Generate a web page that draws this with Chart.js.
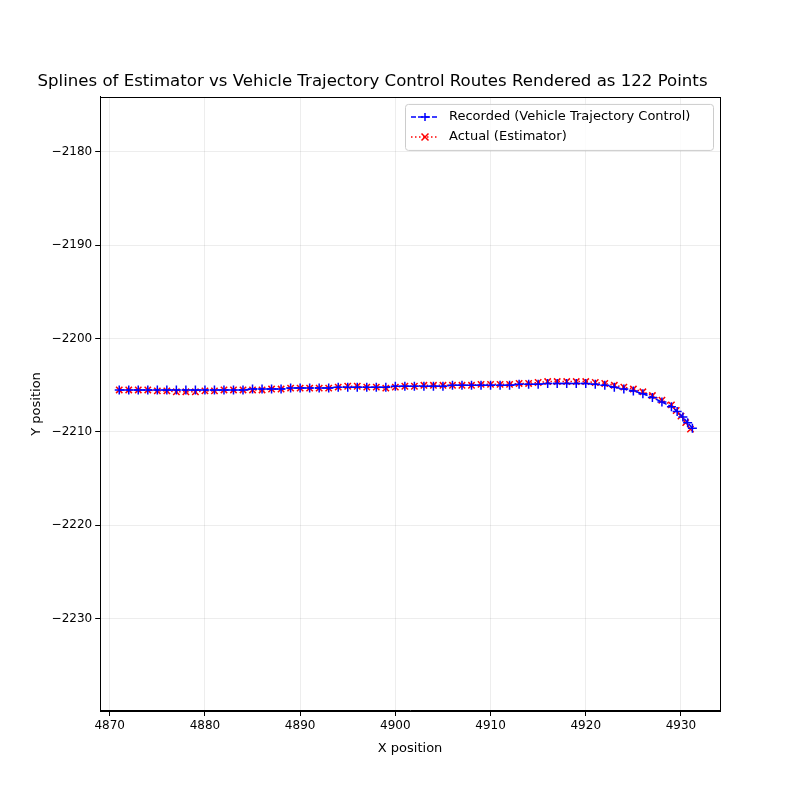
<!DOCTYPE html>
<html>
<head>
<script src="https://cdn.jsdelivr.net/npm/chart.js@4"></script>
<style>body{margin:0;background:#fff}#wrap{width:800px;height:800px}</style>
</head>
<body>
<div id="wrap"><canvas id="c"></canvas></div>
<script>
const recX = [4871,4872,4873,4874,4875,4876,4877,4878,4879,4880,4881,4882,4883,4884,4885,4886,4887,4888,4889,4890,
  4891,4892,4893,4894,4895,4896,4897,4898,4899,4900,4901,4902,4903,4904,4905,4906,4907,4908,4909,4910,
  4911,4912,4913,4914,4915,4916,4917,4918,4919,4920,4921,4922,4923,4924,4925,4926,4927,4928,4929,4929.6,4930.2,4930.7,4931.2];
const recY = [-2205.5,-2205.5,-2205.5,-2205.5,-2205.5,-2205.5,-2205.5,-2205.5,-2205.5,-2205.5,
  -2205.5,-2205.5,-2205.5,-2205.5,-2205.4,-2205.4,-2205.4,-2205.4,-2205.3,-2205.3,
  -2205.3,-2205.3,-2205.3,-2205.2,-2205.2,-2205.2,-2205.2,-2205.2,-2205.2,-2205.1,
  -2205.1,-2205.1,-2205.1,-2205.1,-2205.1,-2205.0,-2205.0,-2205.0,-2205.0,-2205.0,
  -2205.0,-2205.0,-2204.9,-2204.9,-2204.9,-2204.8,-2204.8,-2204.8,-2204.8,-2204.8,
  -2204.9,-2205.0,-2205.2,-2205.4,-2205.6,-2205.9,-2206.3,-2206.8,-2207.3,-2207.8,-2208.4,-2209.0,-2209.6];
const actX = [4871,4872,4873,4874,4875,4876,4877,4878,4879,4880,4881,4882,4883,4884,4885,4886,4887,4888,4889,4890,
  4891,4892,4893,4894,4895,4896,4897,4898,4899,4900,4901,4902,4903,4904,4905,4906,4907,4908,4909,4910,
  4911,4912,4913,4914,4915,4916,4917,4918,4919,4920,4921,4922,4923,4924,4925,4926,4927,4928,4929,4929.5,4930,4930.5,4931];
const actY = [-2205.5,-2205.5,-2205.5,-2205.5,-2205.6,-2205.6,-2205.7,-2205.7,-2205.7,-2205.6,
  -2205.6,-2205.5,-2205.5,-2205.5,-2205.5,-2205.5,-2205.4,-2205.4,-2205.3,-2205.3,
  -2205.3,-2205.3,-2205.3,-2205.2,-2205.1,-2205.1,-2205.2,-2205.2,-2205.3,-2205.2,
  -2205.1,-2205.1,-2205.0,-2205.0,-2205.0,-2205.0,-2205.0,-2205.0,-2204.9,-2204.9,
  -2204.9,-2204.9,-2204.8,-2204.8,-2204.7,-2204.6,-2204.6,-2204.6,-2204.6,-2204.6,
  -2204.7,-2204.8,-2205.0,-2205.2,-2205.4,-2205.7,-2206.1,-2206.6,-2207.1,-2207.7,-2208.3,-2209.0,-2209.7];
const xTicks = [4870,4880,4890,4900,4910,4920,4930];
const yTicks = [-2180,-2190,-2200,-2210,-2220,-2230];
const seriesNames = ['Recorded (Vehicle Trajectory Control)', 'Actual (Estimator)'];

Chart.defaults.font.family = 'DejaVu Sans';
Chart.defaults.color = '#000';

const pts = (xs, ys) => xs.map((x, i) => ({x: x, y: ys[i]}));
const minus = v => String(v).replace('-', '\u2212');

// frame around the plot + matplotlib-style legend box in the upper right
const legendBox = {
  id: 'legendBox',
  afterDraw(chart) {
    const ctx = chart.ctx, a = chart.chartArea;
    ctx.save();
    ctx.strokeStyle = '#000'; ctx.lineWidth = 1;
    ctx.strokeRect(Math.round(a.left) + 0.5, Math.round(a.top) + 0.5, Math.round(a.right - a.left), Math.round(a.bottom - a.top));
    const w = 308, h = 46, x0 = a.right - w - 7, y0 = a.top + 7;
    ctx.fillStyle = 'rgba(255,255,255,0.8)';
    ctx.strokeStyle = '#ccc';
    ctx.beginPath(); ctx.roundRect(x0 + 0.5, y0 + 0.5, w, h, 3); ctx.fill(); ctx.stroke();
    const styles = [
      {c: 'blue', dash: [5, 2], mark: '+'},
      {c: 'red', dash: [1.5, 2.5], mark: 'x'}
    ];
    styles.forEach((s, i) => {
      const ly = y0 + 13 + i * 20;
      ctx.strokeStyle = s.c; ctx.lineWidth = 1.5; ctx.setLineDash(s.dash);
      ctx.beginPath(); ctx.moveTo(x0 + 6, ly); ctx.lineTo(x0 + 34, ly); ctx.stroke();
      ctx.setLineDash([]);
      const cx = x0 + 20;
      ctx.beginPath();
      if (s.mark === '+') { ctx.moveTo(cx - 4, ly); ctx.lineTo(cx + 4, ly); ctx.moveTo(cx, ly - 4); ctx.lineTo(cx, ly + 4); }
      else { ctx.moveTo(cx - 3.5, ly - 3.5); ctx.lineTo(cx + 3.5, ly + 3.5); ctx.moveTo(cx + 3.5, ly - 3.5); ctx.lineTo(cx - 3.5, ly + 3.5); }
      ctx.stroke();
      ctx.fillStyle = '#000'; ctx.font = '13px DejaVu Sans'; ctx.textBaseline = 'middle';
      ctx.fillText(seriesNames[i], x0 + 44, ly);
    });
    ctx.restore();
  }
};

new Chart(document.getElementById('c'), {
  type: 'scatter',
  data: {
    datasets: [
      {label: seriesNames[0], data: pts(recX, recY), showLine: true, borderColor: 'blue', backgroundColor: 'blue',
       borderWidth: 1.5, borderDash: [5, 2], pointStyle: 'cross', pointRadius: 4.5, pointBorderWidth: 1.5},
      {label: seriesNames[1], data: pts(actX, actY), showLine: true, borderColor: 'red', backgroundColor: 'red',
       borderWidth: 1.5, borderDash: [1.5, 2.5], pointStyle: 'crossRot', pointRadius: 4.5, pointBorderWidth: 1.5}
    ]
  },
  options: {
    responsive: true, maintainAspectRatio: false, animation: false,
    layout: {padding: {left: 25, right: 80, top: 72, bottom: 40}},
    plugins: {
      legend: {display: false},
      tooltip: {enabled: false},
      title: {display: true, text: 'Splines of Estimator vs Vehicle Trajectory Control Routes Rendered as 122 Points',
        font: {size: 16.6, weight: 'normal'}, padding: {top: 0, bottom: 5}}
    },
    scales: {
      x: {
        min: 4869, max: 4934.1,
        afterBuildTicks: s => { s.ticks = xTicks.map(v => ({value: v})); },
        ticks: {font: {size: 12}, callback: v => String(v)},
        grid: {color: 'rgba(0,0,0,0.07)', tickColor: '#000', tickLength: 5},
        border: {color: '#000'},
        title: {display: true, text: 'X position', font: {size: 13}}
      },
      y: {
        min: -2239.9, max: -2174.1,
        afterBuildTicks: s => { s.ticks = yTicks.map(v => ({value: v})); },
        ticks: {font: {size: 12}, callback: v => minus(v)},
        grid: {color: 'rgba(0,0,0,0.07)', tickColor: '#000', tickLength: 5},
        border: {color: '#000'},
        title: {display: true, text: 'Y position', font: {size: 13}}
      }
    }
  },
  plugins: [legendBox]
});
</script>
</body>
</html>
